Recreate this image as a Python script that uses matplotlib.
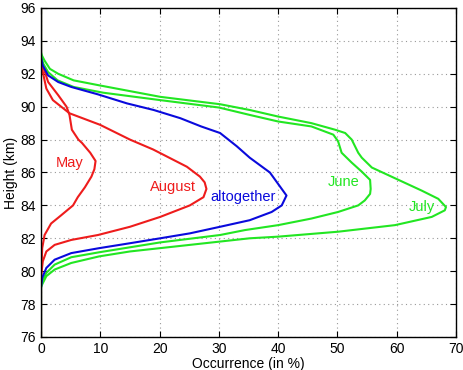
import matplotlib
matplotlib.use('Agg')
import matplotlib.pyplot as plt

plt.rcParams['font.family'] = ['Liberation Sans', 'DejaVu Sans']

# Occurrence profiles (height in km, occurrence in %)
may_h = [76, 79.6, 80.4, 81.4, 82.2, 82.9, 83.4, 84.0, 84.5, 85.1, 85.75, 86.2, 86.7,
         87.2, 87.8, 88.0, 88.6, 89.5, 90.0, 90.7, 91.5, 92.5, 93.0, 96]
may_v = [0, 0, 0.1, 0.2, 0.6, 1.7, 3.4, 5.4, 6.2, 7.4, 8.5, 9.0, 9.2,
         8.3, 6.9, 6.3, 5.2, 4.8, 4.3, 2.9, 1.2, 0.3, 0, 0]

aug_h = [76, 79.6, 80.0, 80.6, 81.2, 81.6, 81.9, 82.2, 82.7, 83.3, 84.0, 84.5, 85.0,
         85.4, 85.75, 86.35, 87.4, 88.0, 88.9, 89.6, 90.0, 90.4, 91.1, 92.1, 92.7, 96]
aug_v = [0, 0, 0.1, 0.3, 0.9, 2.3, 5.1, 9.6, 15.0, 20.1, 25.1, 27.4, 27.9,
         27.6, 26.8, 24.6, 18.9, 15.0, 9.95, 4.8, 3.4, 2.0, 0.9, 0.3, 0, 0]

all_h = [76, 79.0, 79.6, 80.2, 80.7, 81.1, 81.4, 81.7, 82.0, 82.3, 82.7, 83.1, 83.6,
         84.0, 84.6, 85.3, 86.0, 86.9, 87.6, 88.4, 88.8, 89.3, 89.8, 90.2, 90.75,
         91.2, 91.5, 91.9, 92.5, 93.0, 96]
all_v = [0, 0, 0.2, 0.9, 2.3, 5.1, 9.8, 15.0, 20.1, 25.1, 30.2, 35.2, 38.9,
         40.6, 41.4, 40.0, 38.6, 35.2, 33.0, 30.2, 27.0, 23.5, 19.0, 14.5, 9.6,
         5.1, 2.9, 1.2, 0.3, 0, 0]

jun_h = [76, 79.3, 79.4, 79.9, 80.4, 80.85, 81.15, 81.75, 82.2, 82.5, 82.8, 83.2, 83.6,
         84.0, 84.3, 84.7, 85.0, 85.55, 86.05, 86.6, 87.2, 87.9, 88.3, 88.8, 89.1,
         89.5, 89.95, 90.4, 90.85, 91.2, 91.6, 92.1, 92.6, 93.1, 96]
jun_v = [0, 0, 0.2, 0.9, 2.3, 5.1, 9.8, 20.1, 30.2, 34.4, 40.0, 45.6, 50.1,
         53.5, 54.6, 55.5, 55.6, 55.5, 54.1, 52.4, 50.7, 50.1, 49.3, 45.6, 40.0,
         35.2, 30.0, 20.1, 10.5, 5.5, 2.8, 1.2, 0.4, 0, 0]

jul_h = [76, 79.0, 79.2, 79.7, 80.1, 80.5, 80.9, 81.2, 81.6, 82.0, 82.1, 82.4, 82.8,
         83.3, 83.7, 83.9, 84.4, 84.9, 85.65, 86.3, 86.9, 87.2, 88.0, 88.4, 88.6,
         89.0, 89.4, 89.8, 90.15, 90.6, 91.3, 91.6, 92.0, 92.3, 92.8, 93.1, 93.3, 96]
jul_v = [0, 0, 0.2, 0.9, 2.3, 5.1, 9.8, 15.0, 25.1, 35.2, 40.0, 50.1, 59.7,
         65.9, 68.1, 68.3, 67.0, 64.2, 59.7, 55.8, 54.1, 53.5, 52.4, 51.3, 49.6,
         45.6, 40.0, 35.2, 30.2, 20.1, 9.8, 5.5, 2.9, 1.5, 0.6, 0.17, 0, 0]

red = '#ee1c1c'
blue = '#0a0adc'
green = '#22e622'

fig = plt.figure(figsize=(4.63, 3.70), dpi=100)
ax = fig.add_axes([0.0886, 0.0892, 0.8964, 0.8892])

ax.plot(may_v, may_h, color=red, lw=1.5)
ax.plot(aug_v, aug_h, color=red, lw=1.5)
ax.plot(jun_v, jun_h, color=green, lw=1.5)
ax.plot(jul_v, jul_h, color=green, lw=1.5)
ax.plot(all_v, all_h, color=blue, lw=1.5)

ax.text(4.9, 86.6, 'May', color=red, fontsize=10.5, ha='center', va='center')
ax.text(22.3, 85.1, 'August', color=red, fontsize=10.5, ha='center', va='center')
ax.text(34.0, 84.5, 'altogether', color=blue, fontsize=10.5, ha='center', va='center')
ax.text(51.0, 85.4, 'June', color=green, fontsize=10.5, ha='center', va='center')
ax.text(64.2, 83.9, 'July', color=green, fontsize=10.5, ha='center', va='center')

ax.set_xlim(0, 70)
ax.set_ylim(76, 96)
ax.set_xticks(range(0, 71, 10))
ax.set_yticks(range(76, 97, 2))
ax.grid(True, color='#999999', linestyle=(0, (1, 3)), linewidth=0.8)
ax.tick_params(direction='in', top=True, right=True, labelsize=10, length=4)
for s in ax.spines.values():
    s.set_linewidth(1.0)

ax.set_xlabel('Occurrence (in %)', fontsize=10, labelpad=1)
ax.set_ylabel('Height (km)', fontsize=10, labelpad=2)

fig.savefig('out.png', dpi=100)
